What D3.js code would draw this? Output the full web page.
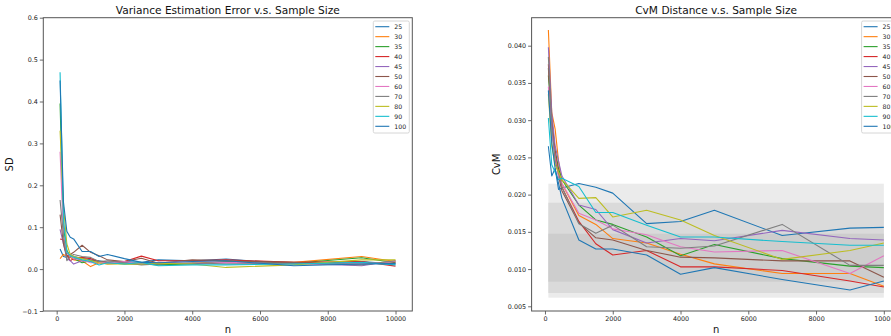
<!DOCTYPE html>
<html>
<head>
<meta charset="utf-8">
<script src="https://cdn.jsdelivr.net/npm/d3@7/dist/d3.min.js"></script>
<style>
  body { margin: 0; background: #fff; }
  svg { display: block; font-family: "DejaVu Sans", sans-serif; }
</style>
</head>
<body>
<div id="chart"></div>
<script>
// series names + matplotlib tab10 cycle (11th wraps back to blue)
const seriesNames = ["25", "30", "35", "40", "45", "50", "60", "70", "80", "90", "100"];
const palette = ["#1f77b4", "#ff7f0e", "#2ca02c", "#d62728", "#9467bd", "#8c564b",
                 "#e377c2", "#7f7f7f", "#bcbd22", "#17becf", "#1f77b4"];

// left panel: SD vs n
const nLeft = [100, 200, 300, 400, 500, 750, 1000, 1250, 1500, 2000, 2500, 3000, 4000, 5000, 7000, 9000, 10000];
const sdValues = [
  [0.048, 0.030, 0.028, 0.035, 0.030, 0.026, 0.022, 0.020, 0.016, 0.018, 0.016, 0.022, 0.020, 0.024, 0.012, 0.018, 0.012],
  [0.025, 0.035, 0.030, 0.028, 0.022, 0.020, 0.006, 0.015, 0.012, 0.014, 0.015, 0.012, 0.014, 0.018, 0.016, 0.030, 0.018],
  [0.395, 0.100, 0.045, 0.030, 0.025, 0.015, 0.020, 0.018, 0.015, 0.012, 0.012, 0.010, 0.012, 0.018, 0.014, 0.027, 0.015],
  [0.072, 0.070, 0.035, 0.020, 0.025, 0.028, 0.025, 0.018, 0.016, 0.018, 0.031, 0.020, 0.020, 0.022, 0.016, 0.018, 0.007],
  [0.095, 0.060, 0.025, 0.020, 0.012, 0.020, 0.018, 0.015, 0.014, 0.016, 0.012, 0.016, 0.012, 0.015, 0.014, 0.008, 0.020],
  [0.130, 0.060, 0.030, 0.035, 0.040, 0.057, 0.040, 0.032, 0.022, 0.018, 0.026, 0.014, 0.022, 0.020, 0.016, 0.012, 0.015],
  [0.280, 0.080, 0.040, 0.030, 0.025, 0.022, 0.015, 0.016, 0.014, 0.018, 0.012, 0.015, 0.018, 0.016, 0.012, 0.012, 0.018],
  [0.165, 0.080, 0.020, 0.030, 0.035, 0.030, 0.028, 0.018, 0.020, 0.015, 0.010, 0.012, 0.015, 0.012, 0.014, 0.010, 0.020],
  [0.330, 0.150, 0.060, 0.035, 0.030, 0.025, 0.020, 0.015, 0.012, 0.012, 0.012, 0.014, 0.012, 0.004, 0.010, 0.022, 0.022],
  [0.470, 0.120, 0.040, 0.032, 0.028, 0.022, 0.018, 0.010, 0.015, 0.012, 0.016, 0.008, 0.010, 0.010, 0.012, 0.016, 0.010],
  [0.450, 0.160, 0.090, 0.076, 0.072, 0.042, 0.042, 0.030, 0.035, 0.025, 0.016, 0.015, 0.018, 0.020, 0.008, 0.012, 0.013]
];

// right panel: CvM vs n
const nRight = [100, 200, 300, 400, 500, 1000, 1500, 2000, 3000, 4000, 5000, 7000, 9000, 10000];
const cvmValues = [
  [0.0265, 0.0225, 0.0235, 0.0207, 0.0209, 0.0215, 0.0210, 0.0202, 0.0161, 0.0164, 0.0179, 0.0145, 0.0155, 0.0156],
  [0.0421, 0.0310, 0.0288, 0.0245, 0.0215, 0.0172, 0.0160, 0.0141, 0.0135, 0.0120, 0.0107, 0.0094, 0.0094, 0.0077],
  [0.0360, 0.0300, 0.0260, 0.0235, 0.0220, 0.0186, 0.0166, 0.0160, 0.0143, 0.0118, 0.0133, 0.0114, 0.0104, 0.0102],
  [0.0375, 0.0300, 0.0255, 0.0230, 0.0210, 0.0164, 0.0134, 0.0119, 0.0125, 0.0103, 0.0103, 0.0098, 0.0084, 0.0076],
  [0.0398, 0.0310, 0.0265, 0.0245, 0.0225, 0.0186, 0.0180, 0.0153, 0.0135, 0.0141, 0.0138, 0.0152, 0.0141, 0.0139],
  [0.0370, 0.0290, 0.0250, 0.0225, 0.0205, 0.0162, 0.0142, 0.0139, 0.0125, 0.0116, 0.0115, 0.0111, 0.0111, 0.0089],
  [0.0345, 0.0285, 0.0250, 0.0225, 0.0215, 0.0175, 0.0166, 0.0154, 0.0146, 0.0130, 0.0123, 0.0125, 0.0094, 0.0118],
  [0.0385, 0.0295, 0.0245, 0.0230, 0.0210, 0.0161, 0.0148, 0.0159, 0.0130, 0.0128, 0.0131, 0.0160, 0.0105, 0.0105],
  [0.0335, 0.0265, 0.0240, 0.0230, 0.0220, 0.0195, 0.0196, 0.0170, 0.0179, 0.0166, 0.0145, 0.0113, 0.0125, 0.0135],
  [0.0303, 0.0240, 0.0230, 0.0220, 0.0222, 0.0211, 0.0176, 0.0176, 0.0159, 0.0143, 0.0143, 0.0137, 0.0132, 0.0132],
  [0.0340, 0.0270, 0.0235, 0.0215, 0.0195, 0.0139, 0.0127, 0.0127, 0.0119, 0.0093, 0.0102, 0.0086, 0.0072, 0.0084]
];

// shaded reference bands on the CvM panel (outer -> inner)
const bandLow = [0.00616, 0.00679, 0.00830];
const bandHigh = [0.02147, 0.01891, 0.01475];
const bandColors = ["#ebebeb", "#dadada", "#cdcdcd"];

const xTicks = [0, 2000, 4000, 6000, 8000, 10000];
const sdTicks = [-0.1, 0, 0.1, 0.2, 0.3, 0.4, 0.5, 0.6];
const cvmTicks = [0.005, 0.010, 0.015, 0.020, 0.025, 0.030, 0.035, 0.040];

const W = 891, H = 336;
const svg = d3.select("#chart").append("svg")
  .attr("width", W)
  .attr("height", H);

const drawPanel = (opt) => {
  const top = 17.7, bottom = 311;
  const x = d3.scaleLinear().domain([-395, 10495]).range([opt.left, opt.left + 369]);
  const y = d3.scaleLinear().domain(opt.yDomain).range([bottom, top]);
  const g = svg.append("g");

  // bands
  if (opt.bands) {
    opt.bands.lo.forEach((lo, i) => {
      g.append("rect")
        .attr("x", x(opt.xs[0]))
        .attr("y", y(opt.bands.hi[i]))
        .attr("width", x(opt.xs[opt.xs.length - 1]) - x(opt.xs[0]))
        .attr("height", y(lo) - y(opt.bands.hi[i]))
        .attr("fill", bandColors[i]);
    });
  }

  // lines
  const line = d3.line()
    .x((d, i) => x(opt.xs[i]))
    .y(d => y(d));
  opt.values.forEach((vals, i) => {
    g.append("path")
      .datum(vals)
      .attr("fill", "none")
      .attr("stroke", palette[i])
      .attr("stroke-width", 1.1)
      .attr("stroke-linejoin", "round")
      .attr("d", line);
  });

  // axes
  const xAxis = g.append("g")
    .attr("transform", `translate(0,${bottom})`)
    .call(d3.axisBottom(x).tickValues(xTicks).tickFormat(d3.format("d")).tickSize(3.5).tickSizeOuter(0).tickPadding(2));
  const yAxis = g.append("g")
    .attr("transform", `translate(${opt.left},0)`)
    .call(d3.axisLeft(y).tickValues(opt.yTicks).tickFormat(opt.fmt).tickSize(3.5).tickSizeOuter(0).tickPadding(2));
  [xAxis, yAxis].forEach(a => {
    a.select(".domain").remove();
    a.selectAll(".tick line").attr("stroke", "#444").attr("stroke-width", 0.8);
    a.selectAll(".tick text").attr("fill", "#222").style("font-size", "6.4px").style("font-family", "DejaVu Sans");
  });

  // frame
  g.append("rect")
    .attr("x", opt.left)
    .attr("y", top)
    .attr("width", 369)
    .attr("height", bottom - top)
    .attr("fill", "none")
    .attr("stroke", "#555")
    .attr("stroke-width", 1);

  // title + labels
  const cx = opt.left + 369 / 2;
  g.append("text")
    .attr("x", cx).attr("y", 14)
    .attr("text-anchor", "middle")
    .style("font-size", "10.6px")
    .attr("fill", "#111")
    .text(opt.title);
  g.append("text")
    .attr("x", cx).attr("y", 333)
    .attr("text-anchor", "middle")
    .style("font-size", "10px")
    .attr("fill", "#111")
    .text("n");
  g.append("text")
    .attr("transform", `translate(${opt.left - opt.yLabelGap},${(top + bottom) / 2}) rotate(-90)`)
    .attr("text-anchor", "middle")
    .style("font-size", "10px")
    .attr("fill", "#111")
    .text(opt.yLabel);

  // legend
  const lx = opt.left + 369 - 39, ly = 21;
  const leg = g.append("g").attr("transform", `translate(${lx},${ly})`);
  leg.append("rect")
    .attr("width", 36).attr("height", 112)
    .attr("rx", 1.5)
    .attr("fill", "#fff").attr("fill-opacity", 0.8)
    .attr("stroke", "#ccc").attr("stroke-width", 0.8);
  seriesNames.forEach((name, i) => {
    const yy = 5.7 + i * 9.96;
    leg.append("line")
      .attr("x1", 2).attr("x2", 16)
      .attr("y1", yy).attr("y2", yy)
      .attr("stroke", palette[i]).attr("stroke-width", 1.1);
    leg.append("text")
      .attr("x", 21).attr("y", yy + 2.2)
      .style("font-size", "6.2px")
      .attr("fill", "#222")
      .text(name);
  });
};

drawPanel({
  left: 43.3,
  xs: nLeft,
  values: sdValues,
  yDomain: [-0.1, 0.6],
  yTicks: sdTicks,
  fmt: d => d3.format(".1f")(d).replace("-", "\u2212"),
  title: "Variance Estimation Error v.s. Sample Size",
  yLabel: "SD",
  yLabelGap: 30
});

drawPanel({
  left: 531.6,
  xs: nRight,
  values: cvmValues,
  yDomain: [0.00437, 0.04376],
  yTicks: cvmTicks,
  fmt: d3.format(".3f"),
  bands: {lo: bandLow, hi: bandHigh},
  title: "CvM Distance v.s. Sample Size",
  yLabel: "CvM",
  yLabelGap: 32
});
</script>
</body>
</html>
